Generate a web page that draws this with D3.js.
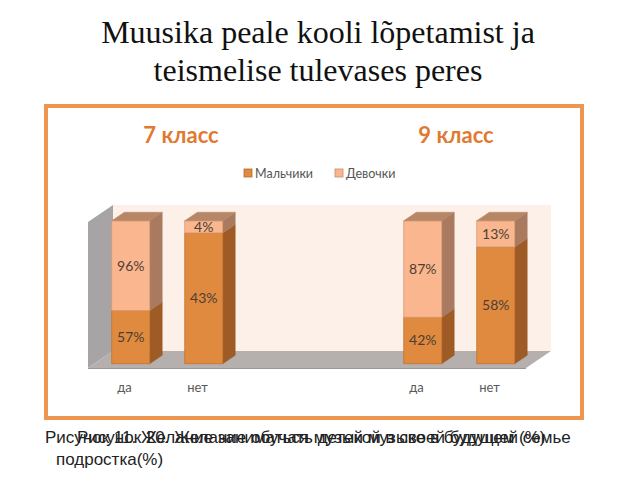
<!DOCTYPE html>
<html><head><meta charset="utf-8">
<script src="https://cdn.jsdelivr.net/npm/d3@7"></script>
<style>body{margin:0;background:#fff}svg{display:block}</style>
</head><body>
<script>
// ---- data ----
const titleLines = ["Muusika peale kooli lõpetamist ja", "teismelise tulevases peres"];
const groupTitles = ["7 класс", "9 класс"];
const slotKeys = ["7да", "7нет", "gapA", "gapB", "9да", "9нет"];
const barKeys = ["7да", "7нет", "9да", "9нет"];
const barLabels = ["да", "нет", "да", "нет"];
const seriesNames = ["Мальчики", "Девочки"];
const boys = [57, 43, 42, 58];
const girls = [96, 4, 87, 13];
const captionA = ["Рисунок 11. Желание заниматься музыкой в своей будущей семье", "подростка(%)"];
const captionB = "Рисунок 20. Желание обучать детей музыке в будущем (%)";

const W = 640, H = 480;
const svg = d3.select("body").append("svg").attr("width", W).attr("height", H);

// title
svg.append("g").selectAll("text").data(titleLines).join("text")
  .attr("x", 318).attr("y", (d, i) => 43 + i * 38)
  .attr("text-anchor", "middle")
  .style("font-family", "'Liberation Serif','Times New Roman',serif")
  .style("font-size", "32px").attr("fill", "#111").text(d => d);

// frame
svg.append("rect").attr("x", 46).attr("y", 106).attr("width", 536).attr("height", 312)
  .attr("fill", "#fff").attr("stroke", "#EE9650").attr("stroke-width", 4);

// group headers
const hx = [181, 456];
svg.append("g").selectAll("text").data(groupTitles).join("text")
  .attr("x", (d, i) => hx[i]).attr("y", 143).attr("text-anchor", "middle")
  .style("font-family", "Lato, 'Open Sans', sans-serif").style("font-weight", "bold")
  .style("font-size", "22px").attr("fill", "#E07A30").text(d => d);

// scales
const x = d3.scaleBand().domain(slotKeys).range([88, 526]).paddingInner(0.48).paddingOuter(0.24);
const y = d3.scaleLinear().domain([0, 100]).range([368, 225]);
const D = [25, -17]; // depth vector
const fr = 0.25, bk = 0.75;

const colors = {
  boys: {front: "#DF8A3E", side: "#9E5B25", top: "#B8753F", stroke: "#C4742F"},
  girls: {front: "#FAB68E", side: "#A97A5F", top: "#B78667", stroke: "#D99A72"}
};

// walls
const x0 = x.range()[0], x1 = x.range()[1];
const yb = y(0), yt = y(100) - 3;
const pts = a => a.map(p => p.join(",")).join(" ");
svg.append("polygon").attr("points", pts([[x0 + D[0], yt + D[1]], [x1 + D[0], yt + D[1]], [x1 + D[0], yb + D[1]], [x0 + D[0], yb + D[1]]]))
  .attr("fill", "#FDF0E9");
svg.append("polygon").attr("points", pts([[x0, yt], [x0 + D[0], yt + D[1]], [x0 + D[0], yb + D[1]], [x0, yb]]))
  .attr("fill", "#A6A4A4");
svg.append("polygon").attr("points", pts([[x0, yb], [x0 + D[0], yb + D[1]], [x1 + D[0], yb + D[1]], [x1, yb]]))
  .attr("fill", "#B5AFAE");
svg.append("line").attr("x1", x0).attr("x2", x1).attr("y1", yb + 0.5).attr("y2", yb + 0.5)
  .attr("stroke", "#9C9695").attr("stroke-width", 1);

// bars
const bars = barKeys.map((k, i) => {
  const tot = boys[i] + girls[i];
  return {key: k, label: barLabels[i], segs: [
    {s: "boys", v: boys[i], y0: 0, y1: boys[i] / tot * 100},
    {s: "girls", v: girls[i], y0: boys[i] / tot * 100, y1: 100}
  ]};
});
const bw = x.bandwidth();
const gBars = svg.append("g");
bars.forEach(b => {
  const bx = x(b.key) + D[0] * fr, dyf = D[1] * fr;
  const ddx = D[0] * (bk - fr), ddy = D[1] * (bk - fr);
  b.segs.forEach(sg => {
    const c = colors[sg.s];
    const ya = y(sg.y0) + dyf, yz = y(sg.y1) + dyf;
    gBars.append("polygon").attr("points", pts([[bx + bw, yz], [bx + bw + ddx, yz + ddy], [bx + bw + ddx, ya + ddy], [bx + bw, ya]]))
      .attr("fill", c.side).attr("stroke", c.side).attr("stroke-width", 0.5);
    gBars.append("rect").attr("x", bx).attr("y", yz).attr("width", bw).attr("height", ya - yz)
      .attr("fill", c.front).attr("stroke", c.stroke).attr("stroke-width", 0.8);
    if (sg.y1 === 100) {
      gBars.append("polygon").attr("points", pts([[bx, yz], [bx + ddx, yz + ddy], [bx + bw + ddx, yz + ddy], [bx + bw, yz]]))
        .attr("fill", c.top).attr("stroke", c.top).attr("stroke-width", 0.5);
    }
    gBars.append("text").attr("x", bx + bw / 2).attr("y", (ya + yz) / 2 + 5)
      .attr("text-anchor", "middle")
      .style("font-family", "Lato, 'Open Sans', sans-serif").style("font-size", "14px")
      .attr("fill", "#4E3E34").text(sg.v + "%");
  });
});

// category labels
svg.append("g").selectAll("text").data(bars).join("text")
  .attr("x", d => x(d.key) + bw / 2).attr("y", 392).attr("text-anchor", "middle")
  .style("font-family", "Lato, 'Open Sans', sans-serif").style("font-size", "13px")
  .attr("fill", "#595959").text(d => d.label);

// legend
const lg = svg.append("g");
const legX = [244, 335];
seriesNames.forEach((n, i) => {
  const c = colors[i === 0 ? "boys" : "girls"];
  lg.append("rect").attr("x", legX[i]).attr("y", 169).attr("width", 8).attr("height", 8)
    .attr("fill", c.front).attr("stroke", i === 0 ? "#B56A2A" : "#C98D66").attr("stroke-width", 0.8);
  lg.append("text").attr("x", legX[i] + 11).attr("y", 177.5)
    .style("font-family", "Lato, 'Open Sans', sans-serif").style("font-size", "12.5px")
    .attr("fill", "#555").text(n);
});

// caption (two overlapping strings, as in the reference)
const cap = svg.append("g").style("font-family", "'Liberation Sans', Arial, sans-serif")
  .style("font-size", "17px").attr("fill", "#222");
cap.append("text").attr("x", 45).attr("y", 443).text(captionA[0]);
cap.append("text").attr("x", 56).attr("y", 465).text(captionA[1]);
cap.append("text").attr("x", 77).attr("y", 443).text(captionB);
</script>
</body></html>
